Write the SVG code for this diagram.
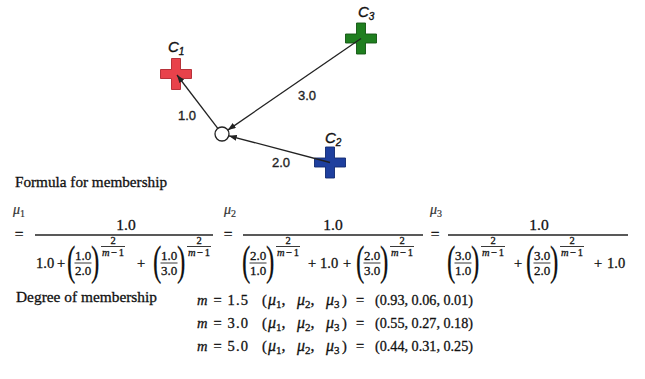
<svg xmlns="http://www.w3.org/2000/svg" width="645" height="379" viewBox="0 0 645 379">
<style>
.t{font-family:"Liberation Serif","Times New Roman",serif;fill:#111;stroke:#111;stroke-width:0.3}
.it{font-style:italic}
.n15{font-size:15.5px;text-anchor:middle}
.n14{font-size:14.5px}
.n13{font-size:13px;text-anchor:middle}
.n10{font-size:10.5px;text-anchor:middle}
.par{font-size:42px;stroke-width:0.2}
.mid{text-anchor:middle}
.fl{stroke:#222;stroke-width:1.3}
.fs{stroke:#222;stroke-width:0.9}
.mu{font-size:14px;font-style:italic;fill:#333;stroke:#333;stroke-width:0.2}
.rm{font-size:16px;font-style:italic}
.lbl{font-family:"Liberation Sans",Arial,sans-serif;font-size:13px;fill:#222;stroke:#222;stroke-width:0.35}
.cl{font-family:"Liberation Sans",Arial,sans-serif;font-style:italic;font-size:15px;fill:#111;stroke:#111;stroke-width:0.35}
.conn{stroke:#222;stroke-width:1.3;fill:none;marker-end:url(#ah)}
</style>
<defs>
<marker id="ah" markerUnits="userSpaceOnUse" markerWidth="8" markerHeight="6" refX="8" refY="3" orient="auto">
<path d="M0,0 L8,3 L0,6 z" fill="#222"/>
</marker>
<path id="plus" d="M-4.5,-15.5 h9 v11 h11 v9 h-11 v11 h-9 v-11 h-11 v-9 h11 z" stroke-width="0.9"/>
</defs>

<!-- nodes -->
<g id="C1">
<use href="#plus" transform="translate(176,74)" fill="#e8424b" stroke="#b0262e"/>
<text class="cl" x="168" y="52">C<tspan font-size="10" dy="3">1</tspan></text>
</g>
<g id="C3">
<use href="#plus" transform="translate(361,38.5)" fill="#1f7f1f" stroke="#125512"/>
<text class="cl" x="358" y="17">C<tspan font-size="10" dy="3">3</tspan></text>
</g>
<g id="C2">
<use href="#plus" transform="translate(330,162.5)" fill="#1e3f9e" stroke="#122a70"/>
<text class="cl" x="325" y="143">C<tspan font-size="10" dy="3">2</tspan></text>
</g>

<!-- connectors -->
<g id="connectors">
<line class="conn" x1="217.8" y1="128.4" x2="177" y2="75"/>
<line class="conn" x1="361" y1="38.5" x2="227.8" y2="130.1"/>
<line class="conn" x1="330" y1="162.5" x2="228.8" y2="135.8"/>
<text class="lbl" x="178" y="120">1.0</text>
<text class="lbl" x="298" y="100">3.0</text>
<text class="lbl" x="272" y="167">2.0</text>
</g>

<g id="X">
<circle cx="222" cy="134" r="7" fill="#fff" stroke="#222" stroke-width="1.3"/>
</g>

<!-- formula -->
<g id="formula">
<text class="t" x="15" y="187" font-size="15" textLength="152" lengthAdjust="spacingAndGlyphs">Formula for membership</text>

<text class="t mu" x="13" y="214">μ<tspan font-size="10" dy="3" font-style="normal">1</tspan></text>
<text class="t mu" x="224" y="214">μ<tspan font-size="10" dy="3" font-style="normal">2</tspan></text>
<text class="t mu" x="430" y="214">μ<tspan font-size="10" dy="3" font-style="normal">3</tspan></text>

<text class="t n15" x="19" y="239">=</text>
<text class="t n15" x="228" y="239">=</text>
<text class="t n15" x="435" y="239">=</text>

<text class="t n15" x="126" y="230">1.0</text>
<text class="t n15" x="333" y="230">1.0</text>
<text class="t n15" x="539" y="230">1.0</text>

<line class="fl" x1="35" y1="235" x2="213" y2="235"/>
<line class="fl" x1="243" y1="235" x2="423" y2="235"/>
<line class="fl" x1="448" y1="235" x2="628" y2="235"/>

<!-- denominator 1 -->
<text class="t n14" x="36" y="268">1.0</text>
<text class="t n14 mid" x="61" y="268">+</text>
<text class="t n14 mid" x="141" y="268">+</text>
<!-- denominator 2 -->
<text class="t n14 mid" x="312" y="268">+</text>
<text class="t n14" x="320" y="268">1.0</text>
<text class="t n14 mid" x="347" y="268">+</text>
<!-- denominator 3 -->
<text class="t n14 mid" x="518" y="268">+</text>
<text class="t n14 mid" x="598" y="268">+</text>
<text class="t n14" x="607" y="268">1.0</text>

<!-- term P=68 -->
<text class="t par" transform="translate(67,275) scale(0.6,1)">(</text>
<text class="t n13" x="83" y="260">1.0</text>
<line class="fs" x1="74.5" y1="263" x2="91.5" y2="263"/>
<text class="t n13" x="83" y="275">2.0</text>
<text class="t par" transform="translate(91,275) scale(0.6,1)">)</text>
<text class="t n10" x="113" y="244">2</text>
<line class="fs" x1="101" y1="246.5" x2="125" y2="246.5"/>
<text class="t n10" x="113" y="255.5" textLength="22"><tspan font-style="italic">m</tspan>−1</text>

<!-- term P=154 -->
<text class="t par" transform="translate(153,275) scale(0.6,1)">(</text>
<text class="t n13" x="169" y="260">1.0</text>
<line class="fs" x1="160.5" y1="263" x2="177.5" y2="263"/>
<text class="t n13" x="169" y="275">3.0</text>
<text class="t par" transform="translate(177,275) scale(0.6,1)">)</text>
<text class="t n10" x="199" y="244">2</text>
<line class="fs" x1="187" y1="246.5" x2="211" y2="246.5"/>
<text class="t n10" x="199" y="255.5" textLength="22"><tspan font-style="italic">m</tspan>−1</text>

<!-- term P=243 -->
<text class="t par" transform="translate(242,275) scale(0.6,1)">(</text>
<text class="t n13" x="258" y="260">2.0</text>
<line class="fs" x1="249.5" y1="263" x2="266.5" y2="263"/>
<text class="t n13" x="258" y="275">1.0</text>
<text class="t par" transform="translate(266,275) scale(0.6,1)">)</text>
<text class="t n10" x="288" y="244">2</text>
<line class="fs" x1="276" y1="246.5" x2="300" y2="246.5"/>
<text class="t n10" x="288" y="255.5" textLength="22"><tspan font-style="italic">m</tspan>−1</text>

<!-- term P=357 -->
<text class="t par" transform="translate(356,275) scale(0.6,1)">(</text>
<text class="t n13" x="372" y="260">2.0</text>
<line class="fs" x1="363.5" y1="263" x2="380.5" y2="263"/>
<text class="t n13" x="372" y="275">3.0</text>
<text class="t par" transform="translate(380,275) scale(0.6,1)">)</text>
<text class="t n10" x="402" y="244">2</text>
<line class="fs" x1="390" y1="246.5" x2="414" y2="246.5"/>
<text class="t n10" x="402" y="255.5" textLength="22"><tspan font-style="italic">m</tspan>−1</text>

<!-- term P=448 -->
<text class="t par" transform="translate(447,275) scale(0.6,1)">(</text>
<text class="t n13" x="463" y="260">3.0</text>
<line class="fs" x1="454.5" y1="263" x2="471.5" y2="263"/>
<text class="t n13" x="463" y="275">1.0</text>
<text class="t par" transform="translate(471,275) scale(0.6,1)">)</text>
<text class="t n10" x="493" y="244">2</text>
<line class="fs" x1="481" y1="246.5" x2="505" y2="246.5"/>
<text class="t n10" x="493" y="255.5" textLength="22"><tspan font-style="italic">m</tspan>−1</text>

<!-- term P=527 -->
<text class="t par" transform="translate(526,275) scale(0.6,1)">(</text>
<text class="t n13" x="542" y="260">3.0</text>
<line class="fs" x1="533.5" y1="263" x2="550.5" y2="263"/>
<text class="t n13" x="542" y="275">2.0</text>
<text class="t par" transform="translate(550,275) scale(0.6,1)">)</text>
<text class="t n10" x="572" y="244">2</text>
<line class="fs" x1="560" y1="246.5" x2="584" y2="246.5"/>
<text class="t n10" x="572" y="255.5" textLength="22"><tspan font-style="italic">m</tspan>−1</text>
</g>

<!-- degree of membership -->
<g id="degree">
<text class="t" x="16" y="302" font-size="15" textLength="141" lengthAdjust="spacingAndGlyphs">Degree of membership</text>

<g id="row1">
<text class="t n14" x="197" y="305" textLength="51"><tspan class="it">m</tspan> = 1.5</text>
<text class="t n14" x="262" y="305">(</text>
<text class="t rm" x="268" y="305">μ<tspan font-size="11" dy="3" font-style="normal">1</tspan><tspan dy="-3" font-style="normal">,</tspan></text>
<text class="t rm" x="297" y="305">μ<tspan font-size="11" dy="3" font-style="normal">2</tspan><tspan dy="-3" font-style="normal">,</tspan></text>
<text class="t rm" x="326" y="305">μ<tspan font-size="11" dy="3" font-style="normal">3</tspan></text>
<text class="t n14" x="342" y="305">)</text>
<text class="t n14 mid" x="360" y="305">=</text>
<text class="t n14" x="375" y="305" textLength="98" lengthAdjust="spacingAndGlyphs">(0.93, 0.06, 0.01)</text>
</g>
<g id="row2">
<text class="t n14" x="197" y="328" textLength="51"><tspan class="it">m</tspan> = 3.0</text>
<text class="t n14" x="262" y="328">(</text>
<text class="t rm" x="268" y="328">μ<tspan font-size="11" dy="3" font-style="normal">1</tspan><tspan dy="-3" font-style="normal">,</tspan></text>
<text class="t rm" x="297" y="328">μ<tspan font-size="11" dy="3" font-style="normal">2</tspan><tspan dy="-3" font-style="normal">,</tspan></text>
<text class="t rm" x="326" y="328">μ<tspan font-size="11" dy="3" font-style="normal">3</tspan></text>
<text class="t n14" x="342" y="328">)</text>
<text class="t n14 mid" x="360" y="328">=</text>
<text class="t n14" x="375" y="328" textLength="98" lengthAdjust="spacingAndGlyphs">(0.55, 0.27, 0.18)</text>
</g>
<g id="row3">
<text class="t n14" x="197" y="351" textLength="51"><tspan class="it">m</tspan> = 5.0</text>
<text class="t n14" x="262" y="351">(</text>
<text class="t rm" x="268" y="351">μ<tspan font-size="11" dy="3" font-style="normal">1</tspan><tspan dy="-3" font-style="normal">,</tspan></text>
<text class="t rm" x="297" y="351">μ<tspan font-size="11" dy="3" font-style="normal">2</tspan><tspan dy="-3" font-style="normal">,</tspan></text>
<text class="t rm" x="326" y="351">μ<tspan font-size="11" dy="3" font-style="normal">3</tspan></text>
<text class="t n14" x="342" y="351">)</text>
<text class="t n14 mid" x="360" y="351">=</text>
<text class="t n14" x="375" y="351" textLength="98" lengthAdjust="spacingAndGlyphs">(0.44, 0.31, 0.25)</text>
</g>
</g>
</svg>
